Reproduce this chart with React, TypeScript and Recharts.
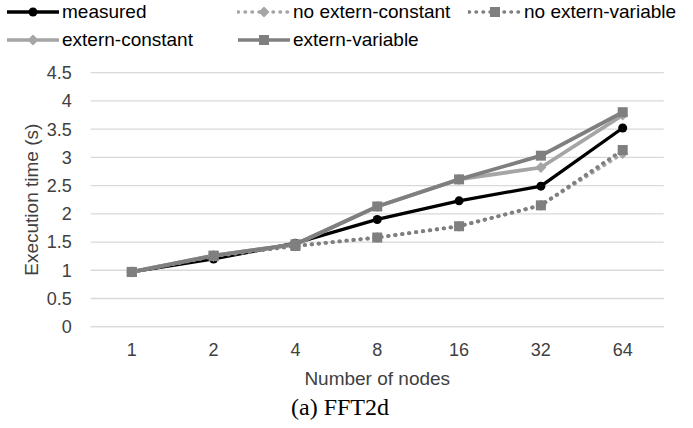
import { CartesianGrid, Line, LineChart, XAxis, YAxis } from 'recharts'

const nodes = ['1', '2', '4', '8', '16', '32', '64']
const measured = [0.97, 1.2, 1.48, 1.9, 2.23, 2.49, 3.52]
const noExternConstant = [0.97, 1.25, 1.43, 1.58, 1.78, 2.15, 3.07]
const noExternVariable = [0.97, 1.25, 1.43, 1.58, 1.78, 2.15, 3.13]
const externConstant = [0.97, 1.26, 1.46, 2.13, 2.61, 2.82, 3.75]
const externVariable = [0.97, 1.26, 1.46, 2.13, 2.61, 3.03, 3.8]
const yTicks = [0, 0.5, 1, 1.5, 2, 2.5, 3, 3.5, 4, 4.5]

const BLACK = '#000000'
const LIGHT = '#a5a5a5'
const DARK = '#7f7f7f'
const TEXT = '#404040'
const FONT = '"Liberation Sans", Arial, sans-serif'

const data = nodes.map((n, i) => ({
  n,
  measured: measured[i],
  noExternConstant: noExternConstant[i],
  noExternVariable: noExternVariable[i],
  externConstant: externConstant[i],
  externVariable: externVariable[i],
}))

type Marker = 'circle' | 'diamond' | 'square'

function markerShape(kind: Marker, color: string, cx: number, cy: number, key?: string) {
  if (kind === 'circle') return <circle key={key} cx={cx} cy={cy} r={4.5} fill={color} />
  if (kind === 'diamond')
    return (
      <polygon
        key={key}
        points={`${cx},${cy - 5.5} ${cx + 5.5},${cy} ${cx},${cy + 5.5} ${cx - 5.5},${cy}`}
        fill={color}
      />
    )
  return <rect key={key} x={cx - 5} y={cy - 5} width={10} height={10} fill={color} />
}

const makeDot = (kind: Marker, color: string) => (props: any) =>
  markerShape(kind, color, props.cx, props.cy, `${props.dataKey}-${props.index}`)

const series = [
  { key: 'measured', name: 'measured', color: BLACK, marker: 'circle' as Marker, dotted: false },
  { key: 'noExternConstant', name: 'no extern-constant', color: LIGHT, marker: 'diamond' as Marker, dotted: true },
  { key: 'noExternVariable', name: 'no extern-variable', color: DARK, marker: 'square' as Marker, dotted: true },
  { key: 'externConstant', name: 'extern-constant', color: LIGHT, marker: 'diamond' as Marker, dotted: false },
  { key: 'externVariable', name: 'extern-variable', color: DARK, marker: 'square' as Marker, dotted: false },
]

// legend slots: [series index, left, top]
const legendSlots: [number, number, number][] = [
  [0, 6, 1],
  [1, 237, 1],
  [2, 468, 1],
  [3, 6, 29],
  [4, 237, 29],
]

function LegendItem({ s, left, top }: { s: (typeof series)[number]; left: number; top: number }) {
  return (
    <div
      style={{
        position: 'absolute',
        left,
        top,
        display: 'flex',
        alignItems: 'center',
        height: 22,
        whiteSpace: 'nowrap',
      }}
    >
      <svg width={54} height={22} style={{ flexShrink: 0 }}>
        <line
          x1={1}
          x2={53}
          y1={11}
          y2={11}
          stroke={s.color}
          strokeWidth={3.5}
          strokeDasharray={s.dotted ? '0.5 6.5' : undefined}
          strokeLinecap={s.dotted ? 'round' : 'butt'}
        />
        {markerShape(s.marker, s.color, 27, 11)}
      </svg>
      <span style={{ fontFamily: FONT, fontSize: 19, color: '#000', marginLeft: 2 }}>{s.name}</span>
    </div>
  )
}

export default function App() {
  return (
    <div style={{ position: 'absolute', left: 0, top: 0, width: 693, height: 428, background: '#fff' }}>
      <LineChart width={693} height={428} data={data} margin={{ top: 72.7, right: 29.3, bottom: 39.3, left: 0 }}>
        <CartesianGrid horizontal vertical={false} stroke="#d9d9d9" strokeWidth={1.3} />
        <XAxis
          dataKey="n"
          padding={{ left: 41, right: 41 }}
          axisLine={{ stroke: '#d9d9d9', strokeWidth: 1.3 }}
          tickLine={false}
          tickSize={0}
          tickMargin={17}
          height={62}
          tick={{ fontFamily: FONT, fontSize: 18, fill: TEXT }}
          label={{
            value: 'Number of nodes',
            position: 'insideBottom',
            offset: 4,
            style: { fontFamily: FONT, fontSize: 19, fill: TEXT },
          }}
        />
        <YAxis
          width={90.8}
          domain={[0, 4.5]}
          ticks={yTicks}
          axisLine={false}
          tickLine={false}
          tickSize={0}
          tickMargin={19}
          tick={{ fontFamily: FONT, fontSize: 18, fill: TEXT }}
          label={{
            value: 'Execution time (s)',
            angle: -90,
            position: 'insideLeft',
            offset: 31,
            style: { fontFamily: FONT, fontSize: 19, fill: TEXT, textAnchor: 'middle' },
          }}
        />
        {series.map((s) => (
          <Line
            key={s.key}
            dataKey={s.key}
            name={s.name}
            stroke={s.color}
            strokeWidth={s.key === 'measured' ? 3.3 : 3.8}
            strokeDasharray={s.dotted ? '0.5 6.5' : undefined}
            strokeLinecap={s.dotted ? 'round' : 'butt'}
            dot={makeDot(s.marker, s.color)}
            activeDot={false}
            isAnimationActive={false}
          />
        ))}
      </LineChart>
      {legendSlots.map(([i, left, top]) => (
        <LegendItem key={series[i].key} s={series[i]} left={left} top={top} />
      ))}
      <div
        style={{
          position: 'absolute',
          left: 240,
          width: 200,
          top: 393,
          textAlign: 'center',
          fontFamily: '"Liberation Serif", "Times New Roman", serif',
          fontSize: 24,
          lineHeight: '28px',
          color: '#000',
        }}
      >
        (a) FFT2d
      </div>
    </div>
  )
}
